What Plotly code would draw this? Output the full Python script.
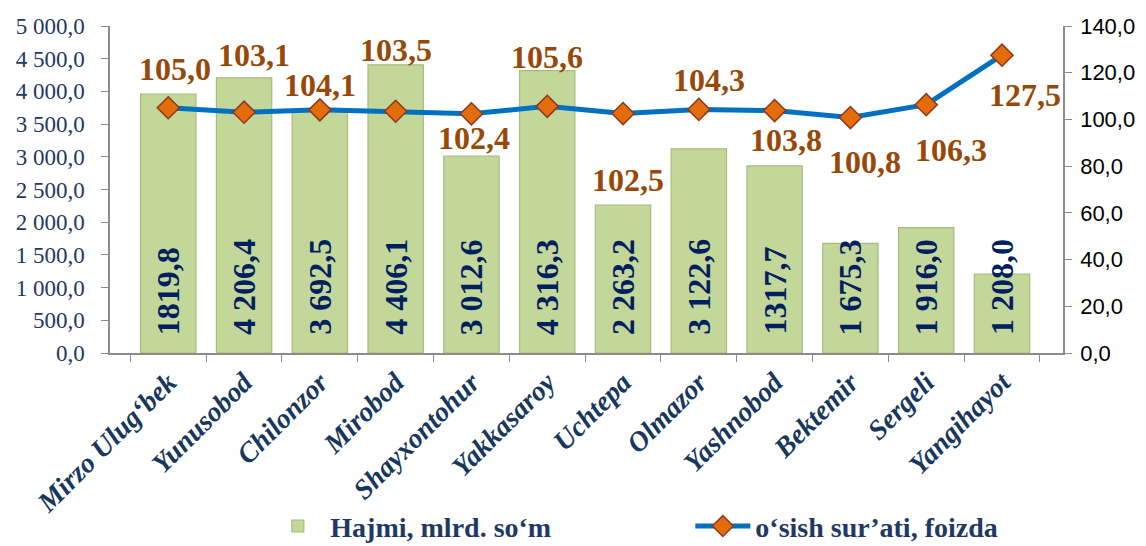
import plotly.graph_objects as go

districts = ["Mirzo Ulug‘bek", "Yunusobod", "Chilonzor", "Mirobod", "Shayxontohur",
             "Yakkasaroy", "Uchtepa", "Olmazor", "Yashnobod", "Bektemir", "Sergeli", "Yangihayot"]
# bar heights as drawn
volume = [3960.0, 4206.4, 3692.5, 4406.1, 3012.6, 4316.3, 2263.2, 3122.6, 2860.0, 1675.3, 1916.0, 1208.0]
# bar labels as printed
volume_labels = ["1819,8", "4 206,4", "3 692,5", "4 406,1", "3 012,6", "4 316,3",
                 "2 263,2", "3 122,6", "1317,7", "1 675,3", "1 916,0", "1 208,0"]
growth = [105.0, 103.1, 104.1, 103.5, 102.4, 105.6, 102.5, 104.3, 103.8, 100.8, 106.3, 127.5]
growth_labels = ["105,0", "103,1", "104,1", "103,5", "102,4", "105,6",
                 "102,5", "104,3", "103,8", "100,8", "106,3", "127,5"]

# label offsets (pixels) for the growth labels
g_yshift = [39, 57, 25, 61, -24, 49, -66, 29, -29, -44, -45, -40]
g_xshift = [7, 10, 0, 0, 3, 0, 5, 10, 11, 15, 25, 23]

NAVY = "#1F3864"
SERIF = "Liberation Serif"

fig = go.Figure()
fig.add_trace(go.Bar(
    x=districts, y=volume, name="Hajmi, mlrd. so‘m",
    marker=dict(color="#C4D79B", line=dict(color="#A6BD77", width=1.2)),
    width=0.73, yaxis="y",
))
fig.add_trace(go.Scatter(
    x=districts, y=growth, name="o‘sish sur’ati, foizda", yaxis="y2",
    mode="lines+markers",
    line=dict(color="#0070C0", width=5),
    marker=dict(symbol="diamond", size=17, color="#E46C0A",
                line=dict(color="#8B3A1F", width=1.5)),
))

annotations = []
for d, t in zip(districts, volume_labels):
    annotations.append(dict(
        x=d, y=0, xref="x", yref="y", text=t, showarrow=False,
        textangle=-90, yanchor="bottom", xanchor="center", yshift=16,
        font=dict(family=SERIF, size=32, color="#002060", weight="bold"),
    ))
for d, v, t, ys, xs in zip(districts, growth, growth_labels, g_yshift, g_xshift):
    annotations.append(dict(
        x=d, y=v, xref="x", yref="y2", text=t, showarrow=False,
        yshift=ys, xshift=xs, xanchor="center", yanchor="middle",
        font=dict(family=SERIF, size=32, color="#984807", weight="bold"),
    ))

fig.update_layout(
    width=1138, height=538,
    margin=dict(l=102, r=83, t=18, b=193, autoexpand=False),
    plot_bgcolor="white", paper_bgcolor="white",
    separators=", ",
    bargap=0.27,
    showlegend=True,
    legend=dict(orientation="h", x=0.163, xanchor="left", y=-0.53, yanchor="middle",
                font=dict(family=SERIF, size=28, color=NAVY, weight="bold"),
                entrywidth=355, itemwidth=55, bgcolor="rgba(0,0,0,0)"),
    xaxis=dict(
        type="category", showgrid=False, showline=True, linecolor="#8C8C8C", linewidth=1.5,
        ticks="outside", tickson="boundaries", ticklen=7, tickcolor="#8C8C8C",
        tickangle=-45, automargin=False,
        tickfont=dict(family=SERIF, size=28, color="#17375E", weight="bold", style="italic"),
    ),
    yaxis=dict(
        range=[0, 5000], dtick=500, tickformat=",.1f", showgrid=False, zeroline=False,
        showline=True, linecolor="#8C8C8C", linewidth=1.5, ticks="outside", ticklen=7,
        tickcolor="#8C8C8C", automargin=False, ticklabelstandoff=12,
        tickfont=dict(family=SERIF, size=23, color=NAVY),
    ),
    yaxis2=dict(
        range=[0, 140], dtick=20, tickformat=".1f", overlaying="y", side="right",
        showgrid=False, zeroline=False, showline=True, linecolor="#8C8C8C", linewidth=1.5,
        ticks="outside", ticklen=7, tickcolor="#8C8C8C", automargin=False,
        ticklabelstandoff=4,
        tickfont=dict(family="Liberation Sans", size=22, color="black"),
    ),
    annotations=annotations,
)

fig.write_html("out.html")
